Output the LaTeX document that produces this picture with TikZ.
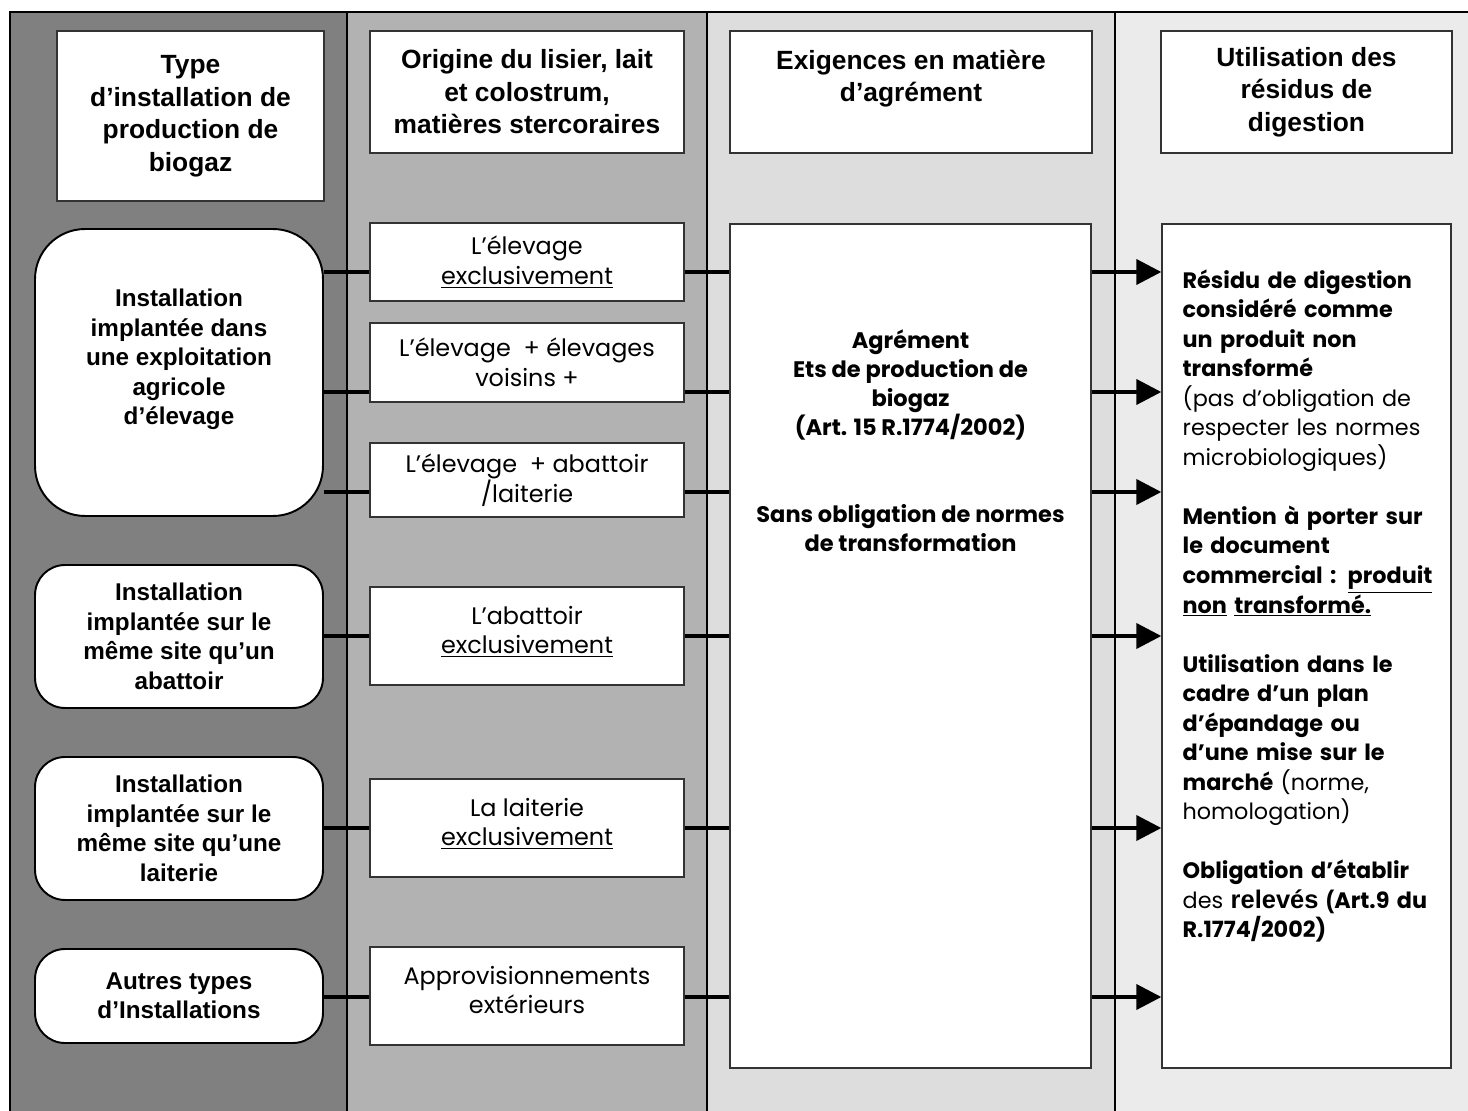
\documentclass[tikz,border=0pt]{standalone}
\usepackage{fontspec}
\setmainfont{Poppins}
\newfontfamily\arialfont{Liberation Sans}
\usetikzlibrary{arrows.meta,positioning}

\definecolor{colone}{gray}{0.5}
\definecolor{coltwo}{gray}{0.70}
\definecolor{colthree}{gray}{0.865}
\definecolor{colfour}{gray}{0.92}

\tikzset{
  ->/.style={draw=black,line width=2.2pt,-{Triangle[length=5mm,width=5mm]}},
  link/.style={draw=black,line width=2.2pt},
  head/.style={draw=black!80,line width=0.8pt,fill=white,align=center,inner sep=0pt,
    font=\arialfont\bfseries\fontsize{15}{18.5}\selectfont},
  inst/.style={draw=black,line width=1.1pt,fill=white,rounded corners=6mm,align=center,
    inner sep=0pt,minimum width=5.76cm,font=\arialfont\bfseries\fontsize{13.8}{16.8}\selectfont},
  orig/.style={draw=black!80,line width=0.8pt,fill=white,align=center,inner sep=0pt,
    minimum width=6.28cm,font=\fontsize{13.6}{17}\selectfont},
  panel/.style={draw=black!80,line width=0.8pt,fill=white,inner sep=0pt,minimum height=16.88cm},
  agrtext/.style={align=center,inner sep=0pt,font=\bfseries\fontsize{12.8}{16.5}\selectfont},
  restext/.style={align=left,inner sep=0pt,text width=5.4cm,font=\fontsize{12.7}{16.8}\selectfont}
}

\begin{document}
\begin{tikzpicture}[x=0.02cm,y=-0.02cm]
    \useasboundingbox (0,0) rectangle (1468,1111);
    % columns
    \fill[colone] (10,12) rectangle (347,1111);
    \fill[coltwo] (347,12) rectangle (707,1111);
    \fill[colthree] (707,12) rectangle (1115,1111);
    \fill[colfour] (1115,12) rectangle (1468,1111);
    \draw[line width=1pt] (10,1111) -- (10,12) -- (1468,12);
    \draw[line width=1pt] (347,12) -- (347,1111);
    \draw[line width=1pt] (707,12) -- (707,1111);
    \draw[line width=1pt] (1115,12) -- (1115,1111);

    % headers
    \node[head,minimum width=5.34cm,minimum height=3.4cm] (typ) at (190.5,116) {Type\\d’installation de\\production de\\biogaz};
    \node[head,minimum width=6.28cm,minimum height=2.44cm] (ori) at (527,92) {Origine du lisier, lait\\et colostrum,\\matières stercoraires};
    \node[head,minimum width=7.24cm,minimum height=2.44cm] (exi) at (911,92) {Exigences en matière\\d’agrément\\[0pt]};
    \node[head,minimum width=5.82cm,minimum height=2.44cm] (uti) at (1306.5,92) {Utilisation des\\résidus de\\digestion};

    % installations
    \node[inst,minimum height=5.74cm,rounded corners=10mm] (inst1) at (179,372.5) {Installation\\implantée dans\\une exploitation\\agricole\\d’élevage\\[1pt]};
    \node[inst,minimum height=2.86cm] (inst2) at (179,636.5) {Installation\\implantée sur le\\même site qu’un\\abattoir};
    \node[inst,minimum height=2.86cm] (inst3) at (179,828.5) {Installation\\implantée sur le\\même site qu’une\\laiterie};
    \node[inst,minimum height=1.88cm] (inst4) at (179,996) {Autres types\\d’Installations};

    % origins
    \node[orig,minimum height=1.56cm] (ori1) at (527,262) {L’élevage\\\underline{exclusivement}};
    \node[orig,minimum height=1.58cm] (ori2) at (527,362.5) {L’élevage~~+ élevages\\voisins +};
    \node[orig,minimum height=1.48cm] (ori3) at (527,480) {L’élevage~~+ abattoir\\/laiterie};
    \node[orig,minimum height=1.96cm] (ori4) at (527,636) {L’abattoir\\\underline{exclusivement}\\[-10pt]};
    \node[orig,minimum height=1.96cm] (ori5) at (527,828) {La laiterie\\\underline{exclusivement}\\[-10pt]};
    \node[orig,minimum height=1.96cm] (ori6) at (527,996) {Approvisionnements\\extérieurs\\[-10pt]};

    % agrement and use
    \node[panel,minimum width=7.22cm] (agr) at (910.5,646) {};
    \node[panel,minimum width=5.78cm] (res) at (1306.5,646) {};
    \node[agrtext,below=2.12cm of agr.north] (agrt) {Agrément\\Ets de production de\\biogaz\\(Art. 15 R.1774/2002)\\[33pt]Sans obligation de normes\\de transformation};
    \node[restext,below right=0.92cm and 0.42cm of res.north west] (rest) {\textbf{Résidu de digestion}\\\textbf{considéré comme}\\\textbf{un produit non}\\\textbf{transformé}\\(pas d’obligation de\\respecter les normes\\microbiologiques)\\[16.8pt]
      \textbf{Mention à porter sur}\\\textbf{le document}\\\textbf{commercial : \underline{produit}}\\\textbf{\underline{non} \underline{transformé.}}\\[16.8pt]
      \textbf{Utilisation dans le}\\\textbf{cadre d’un plan}\\\textbf{d’épandage ou}\\\textbf{d’une mise sur le}\\\textbf{marché} (norme,\\homologation)\\[16.8pt]
      \textbf{Obligation d’établir}\\des {\arialfont\bfseries\fontsize{14.5}{16.8}\selectfont relevés (}\textbf{Art.9 du}\\\textbf{R.1774/2002)}};

    % rows
    \coordinate (r1) at (0,272);
    \coordinate (r2) at (0,392);
    \coordinate (r3) at (0,492);
    \coordinate (r4) at (0,636);
    \coordinate (r5) at (0,828);
    \coordinate (r6) at (0,997);

    \draw [link] (inst1.east |- r1) -- (ori1.west |- r1);
    \draw [link] (ori1.east |- r1) -- (agr.west |- r1);
    \draw [->] (agr.east |- r1) -- (res.west |- r1);
    \draw [link] (inst1.east |- r2) -- (ori2.west |- r2);
    \draw [link] (ori2.east |- r2) -- (agr.west |- r2);
    \draw [->] (agr.east |- r2) -- (res.west |- r2);
    \draw [link] (inst1.east |- r3) -- (ori3.west |- r3);
    \draw [link] (ori3.east |- r3) -- (agr.west |- r3);
    \draw [->] (agr.east |- r3) -- (res.west |- r3);
    \draw [link] (inst2.east |- r4) -- (ori4.west |- r4);
    \draw [link] (ori4.east |- r4) -- (agr.west |- r4);
    \draw [->] (agr.east |- r4) -- (res.west |- r4);
    \draw [link] (inst3.east |- r5) -- (ori5.west |- r5);
    \draw [link] (ori5.east |- r5) -- (agr.west |- r5);
    \draw [->] (agr.east |- r5) -- (res.west |- r5);
    \draw [link] (inst4.east |- r6) -- (ori6.west |- r6);
    \draw [link] (ori6.east |- r6) -- (agr.west |- r6);
    \draw [->] (agr.east |- r6) -- (res.west |- r6);
\end{tikzpicture}
\end{document}
